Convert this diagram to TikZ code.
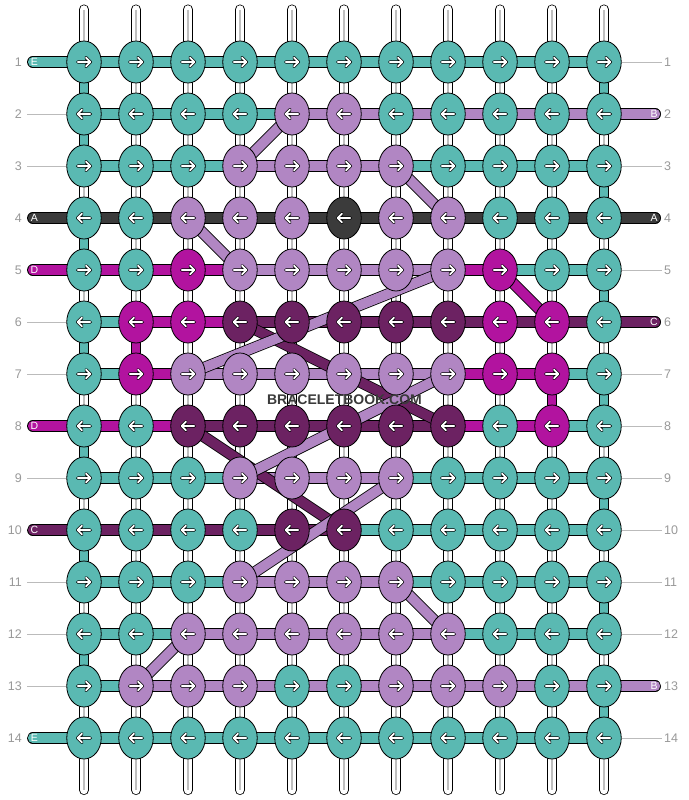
\documentclass[tikz,border=0pt]{standalone}
\usepackage{fontspec}
\setmainfont{Liberation Sans}
\usetikzlibrary{shapes.geometric}
\definecolor{cT}{HTML}{5AB9B2}
\definecolor{cB}{HTML}{B186C3}
\definecolor{cA}{HTML}{3B3B3B}
\definecolor{cD}{HTML}{B2139F}
\definecolor{cC}{HTML}{6C2262}
\definecolor{lbl}{HTML}{999999}
\definecolor{lline}{HTML}{BBBBBB}
\definecolor{wm}{HTML}{3A3A3A}
\pgfdeclarelayer{strands}
\pgfdeclarelayer{bars}
\pgfdeclarelayer{diags}
\pgfsetlayers{strands,bars,diags,main}
\tikzset{
  knot/.style={ellipse, draw=black, line width=0.8pt, minimum width=34.5pt, minimum height=42pt, inner sep=0pt},
  bar/.style={draw=black, line width=0.8pt, double distance=9.8pt, double=#1},
  vseg/.style={draw=black, line width=0.8pt, double distance=8.7pt, double=#1},
  diag/.style={draw=black, line width=0.8pt, double distance=9.8pt, double=#1},
  stub/.style={bar=#1, line cap=round},
  strandline/.style={draw=black, line width=0.8pt, double distance=8.7pt, double=white, line cap=round},
  strandmid/.style={draw=black!25, line width=1.4pt},
  arrowout/.style={black, line width=3.4pt, line cap=round, line join=round},
  arrowin/.style={white, line width=1.8pt, line cap=round, line join=round},
  rownum/.style={text=lbl, font=\fontsize{12.5}{14}\selectfont, inner sep=0pt},
  stublabel/.style={text=white, font=\fontsize{10.5}{12}\selectfont, inner sep=0pt},
  guide/.style={draw=lline, line width=0.9pt},
  watermark/.style={text=wm, font=\bfseries\fontsize{14}{16}\selectfont, inner sep=0pt}
}
\begin{document}
\begin{tikzpicture}[x=1pt,y=-1pt]
\useasboundingbox (0,0) rectangle (688,800);
\begin{pgfonlayer}{strands}
\fill[white] (0,0) rectangle (688,800);
\foreach \cl in {1,...,11}{
  \pgfmathsetmacro\x{84+52*(\cl-1)}
  \coordinate (top\cl) at (\x,9.6);
  \coordinate (bot\cl) at (\x,789.9);
  \draw[strandline] (top\cl) -- (bot\cl);
  \draw[strandmid] (top\cl) -- (bot\cl);
}
\end{pgfonlayer}
% knots
\foreach \rw/\dir/\ks in {
  1/1/{T,T,T,T,T,T,T,T,T,T,T},
  2/-1/{T,T,T,T,B,B,T,T,T,T,T},
  3/1/{T,T,T,B,B,B,B,T,T,T,T},
  4/-1/{T,T,B,B,B,A,B,B,T,T,T},
  5/1/{T,T,D,B,B,B,B,B,D,T,T},
  6/-1/{T,D,D,C,C,C,C,C,D,D,T},
  7/1/{T,D,B,B,B,B,B,B,D,D,T},
  8/-1/{T,T,C,C,C,C,C,C,T,D,T},
  9/1/{T,T,T,B,B,B,B,T,T,T,T},
  10/-1/{T,T,T,T,C,C,T,T,T,T,T},
  11/1/{T,T,T,B,B,B,B,T,T,T,T},
  12/-1/{T,T,B,B,B,B,B,B,T,T,T},
  13/1/{T,B,B,B,T,T,B,B,B,T,T},
  14/-1/{T,T,T,T,T,T,T,T,T,T,T}}{
  \foreach \kc [count=\cl] in \ks {
    \pgfmathsetmacro\x{84+52*(\cl-1)}
    \pgfmathsetmacro\y{62+52*(\rw-1)}
    \node[knot, fill=c\kc] (k\rw-\cl) at (\x,\y) {};
    \draw[arrowout] ({\x-6.3*(\dir)},\y) -- ({\x+6.3*(\dir)},\y)
      ({\x+2*(\dir)},{\y-4.3}) -- ({\x+6.3*(\dir)},\y) -- ({\x+2*(\dir)},{\y+4.3});
    \draw[arrowin] ({\x-6.3*(\dir)},\y) -- ({\x+6.3*(\dir)},\y)
      ({\x+2*(\dir)},{\y-4.3}) -- ({\x+6.3*(\dir)},\y) -- ({\x+2*(\dir)},{\y+4.3});
  }
}
% bars
\begin{pgfonlayer}{bars}
\foreach \rw/\bs in {
  1/{T,T,T,T,T,T,T,T,T,T},
  2/{T,T,T,T,B,B,B,B,B,B},
  3/{T,T,T,B,B,B,T,T,T,T},
  4/{A,A,A,A,A,A,A,A,A,A},
  5/{D,D,D,B,B,B,B,D,T,T},
  6/{T,D,D,C,C,C,C,C,C,C},
  7/{T,D,B,B,B,B,B,D,D,T},
  8/{D,D,C,C,C,C,C,D,D,T},
  9/{T,T,T,B,B,B,T,T,T,T},
  10/{C,C,C,C,C,T,T,T,T,T},
  11/{T,T,T,B,B,B,T,T,T,T},
  12/{T,T,B,B,B,B,B,T,T,T},
  13/{T,B,B,B,B,B,B,B,B,B},
  14/{T,T,T,T,T,T,T,T,T,T}}{
  \foreach \bc [count=\cl] in \bs {
    \pgfmathtruncatemacro\cn{\cl+1}
    \draw[bar=c\bc] (k\rw-\cl.center) -- (k\rw-\cn.center);
  }
}
% vertical coloured segments
\foreach \rw/\cl/\col in {1/1/T,1/11/T,2/1/T,3/11/T,4/1/T,5/11/T,6/1/T,6/2/D,7/11/T,7/10/D,8/1/T,9/11/T,10/1/T,11/11/T,12/1/T,13/11/T}{
  \pgfmathtruncatemacro\rn{\rw+1}
  \draw[vseg=c\col] (k\rw-\cl.center) -- (k\rn-\cl.center);
}
% left stubs
\foreach \rw/\col in {1/T,4/A,5/D,8/D,10/C,14/T}{
  \pgfmathsetmacro\y{62+52*(\rw-1)}
  \coordinate (sl\rw) at (32.8,\y);
  \draw[stub=c\col] (sl\rw) -- (k\rw-1.center);
}
% right stubs
\foreach \rw/\col in {2/B,4/A,6/C,13/B}{
  \pgfmathsetmacro\y{62+52*(\rw-1)}
  \coordinate (sr\rw) at (655.3,\y);
  \draw[stub=c\col] (k\rw-11.center) -- (sr\rw);
}
\end{pgfonlayer}
% diagonals
\begin{pgfonlayer}{diags}
\foreach \ra/\ca/\rb/\cb/\col in {5/9/6/10/D,6/4/8/8/C,8/3/10/6/C,2/5/3/4/B,3/7/4/8/B,4/3/5/4/B,5/8/7/3/B,7/8/9/4/B,9/7/11/4/B,11/7/12/8/B,12/3/13/2/B}{
  \draw[diag=c\col] (k\ra-\ca.center) -- (k\rb-\cb.center);
}
\end{pgfonlayer}
% stub labels
\foreach \rw/\lab in {1/E,4/A,5/D,8/D,10/C,14/E}{
  \pgfmathsetmacro\y{62+52*(\rw-1)}
  \node[stublabel] (ll\rw) at (34.5,\y) {\lab};
}
\foreach \rw/\lab in {2/B,4/A,6/C,13/B}{
  \pgfmathsetmacro\y{62+52*(\rw-1)}
  \node[stublabel] (rl\rw) at (654,\y) {\lab};
}
% guide lines
\foreach \rw in {2,3,6,7,9,11,12,13}{
  \pgfmathsetmacro\y{62+52*(\rw-1)}
  \coordinate (gl\rw) at (27,\y);
  \draw[guide] (gl\rw) -- (k\rw-1.west);
}
\foreach \rw in {1,3,5,7,8,9,10,11,12,14}{
  \pgfmathsetmacro\y{62+52*(\rw-1)}
  \coordinate (gr\rw) at (662,\y);
  \draw[guide] (k\rw-11.east) -- (gr\rw);
}
% row numbers
\foreach \rw in {1,...,14}{
  \pgfmathsetmacro\y{62+52*(\rw-1)}
  \node[rownum, anchor=east] (nl\rw) at (22,\y) {\rw};
  \node[rownum, anchor=west] (nr\rw) at (664,\y) {\rw};
}
\node[watermark] (wmark) at (344.5,399.5) {BRACELETBOOK.COM};
\end{tikzpicture}
\end{document}
